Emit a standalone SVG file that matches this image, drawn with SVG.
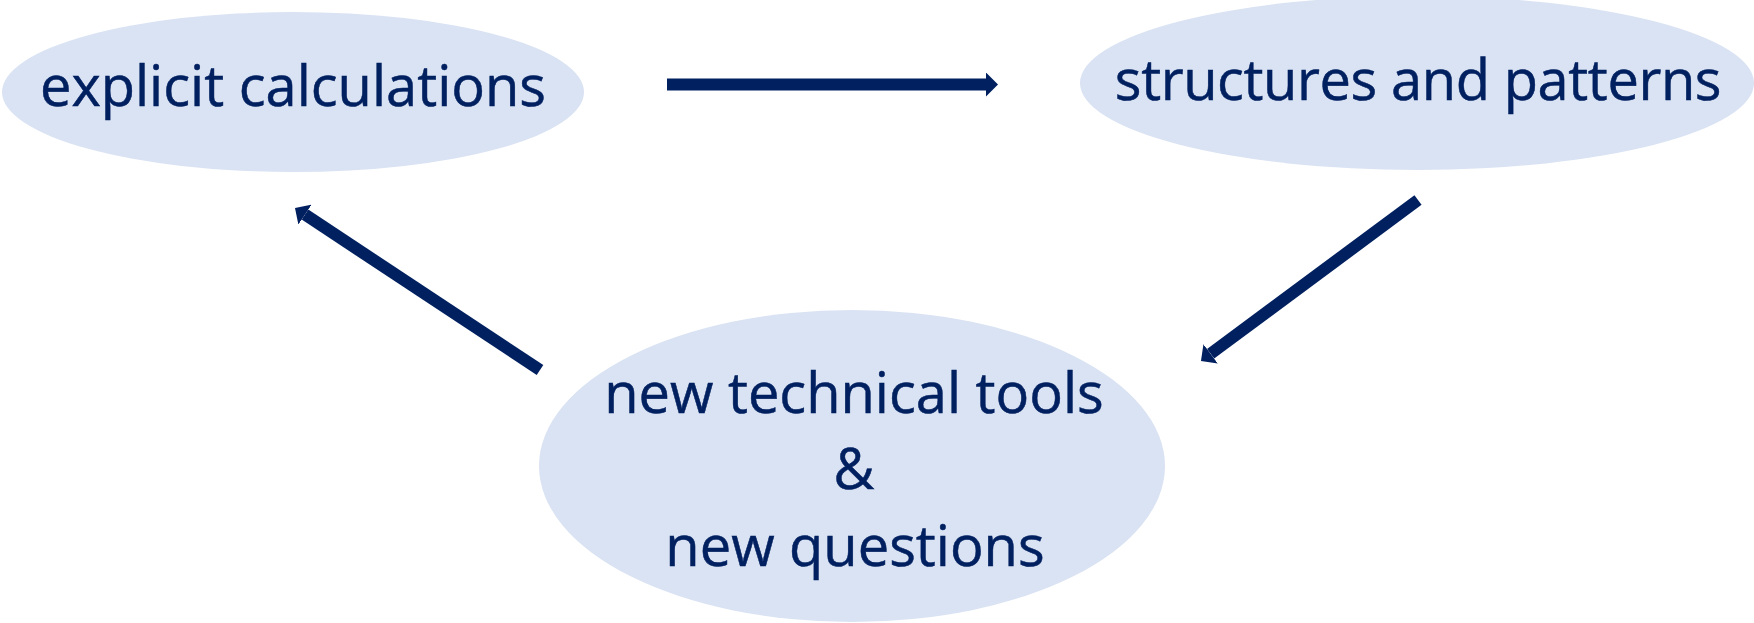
<svg xmlns="http://www.w3.org/2000/svg" width="1754" height="623" viewBox="0 0 1754 623">
  <style>
    .node { fill: #DAE3F3; }
    .label { font-family: "Open Sans", "Liberation Sans", sans-serif; font-size: 56px; fill: #002060; stroke: #002060; stroke-width: 0.5; text-anchor: middle; }
    .edge { stroke: #002060; stroke-width: 12; fill: none; marker-end: url(#head); }
  </style>
  <defs>
    <marker id="head" viewBox="0 0 1 2" refX="0" refY="1" markerWidth="1" markerHeight="2" markerUnits="strokeWidth" orient="auto">
      <path d="M0,0 L1,1 L0,2 z" fill="#002060"/>
    </marker>
  </defs>
  <rect width="1754" height="623" fill="#FFFFFF"/>

  <g id="explicit-calculations">
    <ellipse class="node" cx="293" cy="92" rx="291" ry="80"/>
    <text class="label" x="293" y="106">explicit calculations</text>
  </g>

  <g id="structures-and-patterns">
    <ellipse class="node" cx="1417" cy="83" rx="337" ry="87"/>
    <text class="label" x="1418" y="100" letter-spacing="-0.4">structures and patterns</text>
  </g>

  <g id="new-tools-and-questions">
    <ellipse class="node" cx="852" cy="466" rx="313" ry="156"/>
    <text class="label" x="854" y="413">new technical tools</text>
    <text class="label" x="854" y="489">&amp;</text>
    <text class="label" x="855" y="566">new questions</text>
  </g>

  <g id="connectors">
    <line class="edge" x1="667" y1="84.5" x2="986" y2="84.5"/>
    <line class="edge" x1="1418" y1="200" x2="1210.6" y2="353.8"/>
    <line class="edge" x1="540" y1="370" x2="305" y2="214.6"/>
  </g>
</svg>
